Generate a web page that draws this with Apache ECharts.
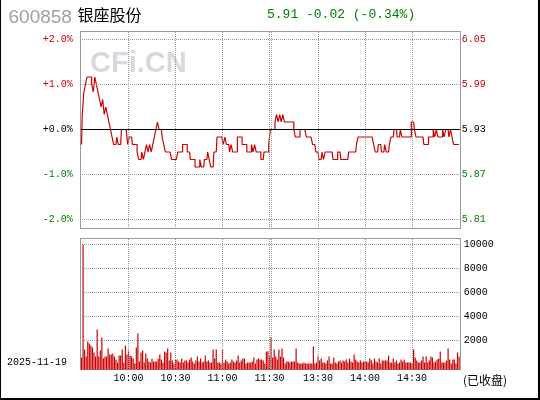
<!DOCTYPE html>
<html><head><meta charset="utf-8">
<script src="https://cdn.jsdelivr.net/npm/echarts@6/dist/echarts.min.js"></script>
<style>html,body{margin:0;padding:0;background:#fff}#c{width:540px;height:400px}</style>
</head><body><div id="c"></div>
<script>
// ---- data ----
const stockCode = '600858';
const stockName = '银座股份';
const quoteText = '5.91 -0.02 (-0.34%)';
const tradeDate = '2025-11-19';
const statusText = '(已收盘)';
const prevClose = 5.93;
const priceTicks = [5.81, 5.87, 5.93, 5.99, 6.05];
const pctLabels = ['-2.0%', '-1.0%', '+0.0%', '+1.0%', '+2.0%'];
const priceLabels = ['5.81', '5.87', '5.93', '5.99', '6.05'];
const volTicks = [2000, 4000, 6000, 8000, 10000];
const volLabels = ['2000', '4000', '6000', '8000', '10000'];
const timeLabels = ['10:00', '10:30', '11:00', '11:30', '13:30', '14:00', '14:30'];
const gridTimes = ['10:00', '10:30', '11:00', '11:30', '13:00', '13:30', '14:00', '14:30'];

const times = [];
function fmt(m){const h=Math.floor(m/60),mm=m%60;return (h<10?'0':'')+h+':'+(mm<10?'0':'')+mm;}
for (let m = 9*60+30; m <= 11*60+30; m++) times.push(fmt(m));
for (let m = 13*60; m <= 15*60; m++) times.push(fmt(m));

const prices = [
5.91,5.95,5.98,5.99,6.00,6.00,6.00,5.99,5.98,6.00,
5.99,5.98,5.97,5.96,5.97,5.95,5.96,5.95,5.94,5.93,
5.92,5.91,5.91,5.92,5.91,5.91,5.93,5.93,5.93,5.93,
5.91,5.92,5.92,5.91,5.91,5.91,5.90,5.89,5.89,5.90,
5.89,5.90,5.91,5.90,5.91,5.90,5.91,5.92,5.93,5.94,
5.93,5.93,5.92,5.91,5.90,5.90,5.90,5.90,5.89,5.89,
5.89,5.89,5.90,5.90,5.90,5.91,5.91,5.91,5.90,5.90,
5.89,5.89,5.89,5.88,5.88,5.88,5.89,5.88,5.88,5.89,
5.89,5.90,5.89,5.88,5.88,5.90,5.90,5.92,5.92,5.92,
5.92,5.91,5.92,5.91,5.91,5.90,5.91,5.90,5.90,5.90,
5.92,5.92,5.92,5.91,5.91,5.91,5.90,5.90,5.90,5.91,
5.90,5.91,5.90,5.90,5.90,5.89,5.89,5.90,5.90,5.90,
5.91,5.93,5.93,5.93,5.94,5.95,5.94,5.95,5.94,5.95,
5.94,5.94,5.94,5.94,5.94,5.94,5.93,5.92,5.92,5.92,
5.93,5.93,5.93,5.93,5.92,5.92,5.92,5.92,5.91,5.91,
5.90,5.90,5.89,5.89,5.90,5.89,5.90,5.90,5.90,5.90,
5.90,5.89,5.89,5.89,5.90,5.90,5.89,5.89,5.89,5.89,
5.89,5.90,5.90,5.90,5.90,5.90,5.91,5.92,5.92,5.92,
5.92,5.92,5.92,5.92,5.92,5.92,5.92,5.91,5.90,5.90,
5.91,5.91,5.90,5.90,5.91,5.90,5.90,5.91,5.92,5.92,
5.93,5.93,5.92,5.92,5.93,5.92,5.92,5.92,5.92,5.92,
5.92,5.94,5.94,5.93,5.92,5.92,5.92,5.92,5.92,5.91,
5.91,5.91,5.92,5.92,5.92,5.93,5.92,5.93,5.92,5.92,
5.92,5.93,5.92,5.93,5.93,5.92,5.93,5.92,5.91,5.91,
5.91,5.91
];
const volumes = [
583,9980,1250,667,1917,1750,1583,1417,1000,667,
2917,667,1167,2250,500,667,667,1333,833,833,
917,667,417,167,750,750,1250,167,1583,833,
1167,750,667,500,83,1417,2583,250,1000,1167,
167,917,500,250,167,500,250,250,250,500,
833,417,167,1083,1000,1333,333,1000,333,83,
417,417,250,167,500,167,333,333,167,417,
583,250,83,333,667,250,500,167,250,750,
250,333,167,167,1250,500,1250,167,167,83,
1250,167,417,250,83,167,417,250,167,333,
750,167,333,500,500,83,167,167,167,250,
583,83,417,500,417,417,333,83,1083,1083,
667,2250,583,1250,667,417,1250,667,1333,583,
83,250,250,167,250,250,250,1333,167,83,
83,83,167,83,83,83,83,83,1500,83,
167,667,333,500,167,167,83,333,667,83,
83,583,167,83,250,333,167,333,250,417,
167,500,250,167,833,417,250,167,333,167,
250,250,250,167,500,333,83,500,250,167,
500,83,333,333,333,333,750,167,167,500,
167,333,83,167,417,250,417,167,167,167,
167,83,1250,583,333,167,167,333,667,167,
667,167,333,667,583,167,250,417,500,1083,
167,167,167,333,1333,417,83,417,417,83,
1000,667
];

// ---- styling ----
const RED = '#cc0000', GREEN = '#008000', GRIDC = '#999999', BORDER = '#999999';
const MONO = '"Liberation Mono", "DejaVu Sans Mono", monospace';
const CJK = '"Noto Sans CJK SC", sans-serif';

function tickIdx(v){let b=0;for(let i=1;i<priceTicks.length;i++){if(Math.abs(priceTicks[i]-v)<Math.abs(priceTicks[b]-v))b=i;}return b;}
function tickColor(v){const i=tickIdx(v);return i>2?RED:(i<2?GREEN:'#000');}

// plot geometry
const plotLeft = 80.7167, plotWidth = 379.1333;
const pTop = 31.5, pHeight = 197;
const vTop = 238.5, vHeight = 131;
const pMin = 5.798, pMax = 6.06067;
const vMin = -416.67, vMax = 10500;

const dottedH = {color: GRIDC, width: 1, type: [1, 1], dashOffset: plotLeft - Math.floor(plotLeft)};
const dottedV = {color: GRIDC, width: 1, type: [1, 1], dashOffset: 0.5};

const priceMarks = [];
priceTicks.forEach(v => { if (v !== prevClose) priceMarks.push({yAxis: v, lineStyle: dottedH}); });
gridTimes.forEach(t => priceMarks.push({xAxis: t, lineStyle: dottedV}));
priceMarks.push({yAxis: prevClose, lineStyle: {color: '#000', width: 1, type: 'solid'}});

const volMarks = [];
volTicks.forEach(v => volMarks.push({yAxis: v, lineStyle: dottedH}));
gridTimes.forEach(t => volMarks.push({xAxis: t, lineStyle: dottedV}));

function frame(x, y, w, h) {
  return [
    {type: 'rect', shape: {x: x, y: y, width: w, height: 1}, style: {fill: BORDER}, silent: true},
    {type: 'rect', shape: {x: x, y: y + h - 1, width: w, height: 1}, style: {fill: BORDER}, silent: true},
    {type: 'rect', shape: {x: x, y: y, width: 1, height: h}, style: {fill: BORDER}, silent: true},
    {type: 'rect', shape: {x: x + w - 1, y: y, width: 1, height: h}, style: {fill: BORDER}, silent: true}
  ];
}

const chart = echarts.init(document.getElementById('c'), null, {renderer: 'canvas'});
chart.setOption({
  animation: false,
  backgroundColor: '#fff',
  grid: [
    {left: plotLeft, top: pTop, width: plotWidth, height: pHeight, show: false, outerBoundsMode: 'none', containLabel: false},
    {left: plotLeft, top: vTop, width: plotWidth, height: vHeight, show: false, outerBoundsMode: 'none', containLabel: false}
  ],
  xAxis: [
    {type: 'category', gridIndex: 0, data: times, boundaryGap: true,
     axisLine: {show: false}, axisTick: {show: false}, axisLabel: {show: false}, splitLine: {show: false}},
    {type: 'category', gridIndex: 1, data: times, boundaryGap: true,
     axisLine: {show: false}, axisTick: {show: false}, splitLine: {show: false},
     axisLabel: {show: true, interval: (i, v) => timeLabels.includes(v), color: '#000', fontFamily: MONO, fontSize: 10, margin: 4, hideOverlap: false}}
  ],
  yAxis: [
    {type: 'value', gridIndex: 0, position: 'left', min: pMin, max: pMax,
     axisLine: {show: false}, axisTick: {show: false, customValues: priceTicks}, splitLine: {show: false},
     axisLabel: {customValues: priceTicks, formatter: v => pctLabels[tickIdx(v)], color: tickColor, fontFamily: MONO, fontSize: 10, margin: 8, showMinLabel: true, showMaxLabel: true}},
    {type: 'value', gridIndex: 0, position: 'right', min: pMin, max: pMax,
     axisLine: {show: false}, axisTick: {show: false, customValues: priceTicks}, splitLine: {show: false},
     axisLabel: {customValues: priceTicks, formatter: v => priceLabels[tickIdx(v)], color: tickColor, fontFamily: MONO, fontSize: 10, margin: 2, showMinLabel: true, showMaxLabel: true}},
    {type: 'value', gridIndex: 1, position: 'right', min: vMin, max: vMax, startValue: vMin,
     axisLine: {show: false}, axisTick: {show: false, customValues: volTicks}, splitLine: {show: false},
     axisLabel: {customValues: volTicks, formatter: v => volLabels[volTicks.indexOf(Math.round(v))] || '', color: '#000', fontFamily: MONO, fontSize: 10, margin: 4}}
  ],
  series: [
    {type: 'line', xAxisIndex: 0, yAxisIndex: 0, data: prices, step: 'middle', symbol: 'none', showSymbol: false,
     lineStyle: {color: RED, width: 1.2}, z: 3,
     markLine: {silent: true, symbol: ['none', 'none'], label: {show: false}, emphasis: {disabled: true}, animation: false, data: priceMarks}},
    {type: 'bar', xAxisIndex: 1, yAxisIndex: 2, data: volumes, barWidth: 1.2, itemStyle: {color: RED}, z: 3,
     markLine: {silent: true, symbol: ['none', 'none'], label: {show: false}, emphasis: {disabled: true}, animation: false, data: volMarks}}
  ],
  graphic: [
    {type: 'text', x: 90, y: 64, z: -10, style: {text: 'CFi.CN', fill: '#d6d9dd', font: 'bold 29px "Liberation Sans", Arial, sans-serif', verticalAlign: 'middle'}},
    {type: 'text', x: 8.5, y: 17.5, style: {text: stockCode, fill: '#a0a0a0', font: '19px "Liberation Sans", Arial, sans-serif', verticalAlign: 'middle'}},
    {type: 'text', x: 77.5, y: 14.5, style: {text: stockName, fill: '#000', font: '16px ' + CJK, verticalAlign: 'middle'}},
    {type: 'text', x: 267, y: 15, style: {text: quoteText, fill: GREEN, font: '13px ' + MONO, verticalAlign: 'middle'}},
    {type: 'text', x: 7, y: 362.5, style: {text: tradeDate, fill: '#000', font: '10px ' + MONO, verticalAlign: 'middle'}},
    {type: 'text', x: 463, y: 380, style: {text: statusText, fill: '#000', font: '12px ' + CJK, verticalAlign: 'middle'}},
    ...frame(80, 31, 381, 198),
    ...frame(80, 238, 381, 132),
    {type: 'rect', shape: {x: 0, y: 0, width: 1, height: 400}, style: {fill: '#000'}},
    {type: 'rect', shape: {x: 538, y: 0, width: 2, height: 400}, style: {fill: '#000'}},
    {type: 'rect', shape: {x: 0, y: 398, width: 540, height: 2}, style: {fill: '#000'}}
  ]
});
</script>
</body></html>
